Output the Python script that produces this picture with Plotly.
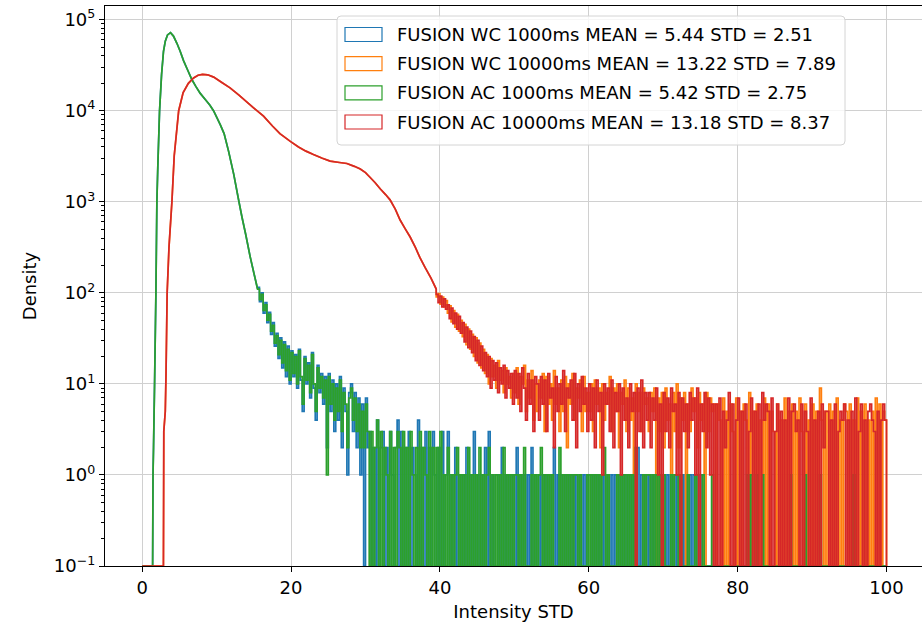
import plotly.graph_objects as go

# ---------------- data ----------------
BIN_W = 0.25          # width of the noisy-tail histogram bins
FLOOR = 0.1           # empty bins are drawn at the bottom of the log axis

LABELS = [
    "FUSION WC 1000ms MEAN = 5.44 STD = 2.51",
    "FUSION WC 10000ms MEAN = 13.22 STD = 7.89",
    "FUSION AC 1000ms MEAN = 5.42 STD = 2.75",
    "FUSION AC 10000ms MEAN = 13.18 STD = 8.37",
]
COLORS = ["#1f77b4", "#ff7f0e", "#2ca02c", "#d62728"]

Y_TICKS = [0.1, 1, 10, 100, 1000, 10000, 100000]
Y_TICKTEXT = ["10<sup>\u22121</sup>", "10<sup>0</sup>", "10<sup>1</sup>", "10<sup>2</sup>",
              "10<sup>3</sup>", "10<sup>4</sup>", "10<sup>5</sup>"]
X_TICKS = [0, 20, 40, 60, 80, 100]

# smooth body of the 1000 ms histograms
blue_smooth_x = [0, 1.4, 1.45, 1.52, 1.66, 1.84, 1.97, 2.1, 2.33, 2.6, 2.86, 3.1, 3.4, 3.8, 4.2, 4.66,
                 5.1, 5.55, 6.1, 6.67, 7.2, 7.8, 8.5, 9.1, 9.58, 10.0, 10.5, 11.0, 11.6, 12.3, 12.95,
                 13.4, 13.9, 14.5, 15.0, 15.5]
blue_smooth_y = [0, 0, 1, 2, 10, 100, 1000, 2500, 10000, 25000, 45000, 58000, 68000, 72000, 66000, 55000,
                 45000, 35500, 28000, 22000, 18500, 15500, 13200, 11500, 10000, 8500, 7000, 5600, 3600, 2000, 1050,
                 680, 440, 250, 165, 110]
green_smooth_x = [0, 1.4, 1.45, 1.52, 1.66, 1.84, 1.97, 2.1, 2.33, 2.6, 2.86, 3.1, 3.4, 3.8, 4.2, 4.66,
                  5.1, 5.55, 6.1, 6.67, 7.2, 7.8, 8.5, 9.1, 9.58, 10.0, 10.5, 11.0, 11.6, 12.3, 12.95,
                  13.4, 13.9, 14.5, 15.0, 15.5]
green_smooth_y = [0, 0, 1, 2, 10, 100, 1000, 2500, 10000, 25000, 45000, 58000, 68000, 72000, 66000, 55000,
                  45000, 35500, 28000, 22000, 18500, 15500, 13200, 11500, 10000, 8500, 7000, 5600, 3600, 2000, 1050,
                  680, 440, 250, 165, 110]

# smooth body of the 10000 ms histograms
orange_smooth_x = [0, 2.85, 2.9, 3.1, 3.2, 3.35, 3.6, 3.99, 4.3, 4.9, 5.5, 6.2, 6.9, 7.5, 8.1, 8.8, 9.6,
                   10.7, 11.8, 13.0, 14.0, 15.0, 16.3, 17.5, 18.5, 19.9, 21.0, 22.0, 23.0, 24.2, 25.25,
                   26.5, 27.5, 28.5, 29.3, 30.0, 30.6, 31.3, 32.0, 32.7, 33.3, 34.0, 34.65, 35.3, 36.0,
                   36.7, 37.3, 38.0, 38.8, 39.5]
orange_smooth_y = [0, 0, 3, 5, 13, 100, 320, 1000, 3200, 10000, 15800, 20000, 22900, 24500, 25100, 24800, 23400,
                   20400, 17800, 14800, 12600, 10700, 8700, 6800, 5600, 4600, 4000, 3600, 3300, 3000, 2800,
                   2700, 2630, 2450, 2290, 2090, 1860, 1620, 1380, 1200, 1050, 830, 630, 510, 410,
                   316, 245, 190, 145, 110]
red_smooth_x = [0, 2.85, 2.9, 3.1, 3.2, 3.35, 3.6, 3.99, 4.3, 4.9, 5.5, 6.2, 6.9, 7.5, 8.1, 8.8, 9.6,
                10.7, 11.8, 13.0, 14.0, 15.0, 16.3, 17.5, 18.5, 19.9, 21.0, 22.0, 23.0, 24.2, 25.25,
                26.5, 27.5, 28.5, 29.3, 30.0, 30.6, 31.3, 32.0, 32.7, 33.3, 34.0, 34.65, 35.3, 36.0,
                36.7, 37.3, 38.0, 38.8, 39.5]
red_smooth_y = [0, 0, 3, 5, 13, 100, 320, 1000, 3200, 10000, 15800, 20000, 22900, 24500, 25100, 24800, 23400,
                20400, 17800, 14800, 12600, 10700, 8700, 6800, 5600, 4600, 4000, 3600, 3300, 3000, 2800,
                2700, 2630, 2450, 2290, 2090, 1860, 1620, 1380, 1200, 1050, 830, 630, 510, 410,
                316, 245, 190, 145, 110]

# noisy tails: counts per 0.25-wide bin
short_tail_start = 15.5
long_tail_start = 39.5

blue_tail = [
    115, 80, 100, 60, 78, 47, 61, 35, 47, 26,
    36, 19, 32, 15, 29, 12, 26, 10, 23, 12,
    21, 9, 24, 11, 5, 20, 10, 17, 7, 22, 9, 4, 16, 8, 13, 6,
    12, 2, 13, 5, 11, 3, 10, 4, 12, 2, 9, 5, 1, 8, 10, 3,
    8, 2, 7, 1, 6, 0, 7, 2,
    3, 0, 2, 0, 4, 0, 2, 3, 0, 2,
    0, 3, 1, 0, 2, 4, 0, 3, 0, 2,
    0, 3, 0, 2, 1, 0, 4, 0, 2, 0,
    3, 0, 2, 0, 3, 1, 0, 2, 0, 3,
    0, 1, 3, 0, 1, 0, 2, 0, 1, 0,
    1, 0, 2, 0, 1, 0, 3, 0, 1, 0,
    1, 0, 2, 0, 3, 0, 1, 0,
    0, 1, 0, 2, 0, 1, 0, 1, 0, 1,
    0, 2, 0, 1, 0, 1, 0, 1, 0, 2,
    0, 1, 0, 1, 0, 1, 0, 1, 0, 1,
    0, 2, 0, 1, 0, 1, 0, 1, 0, 1,
    0, 1, 0, 1, 0, 1, 0, 1, 0, 1,
    1, 0, 1, 0, 1, 0, 1, 0, 1, 0,
    1, 0, 1, 0, 1, 0, 1, 0, 1, 0,
    1, 0, 1, 0, 1, 0, 2, 0, 1, 0,
    1, 0, 1, 0, 1, 0, 1, 0, 1, 0,
    1, 0, 1, 0, 1, 0, 1, 0, 1, 0,
    1, 0, 1, 0, 1, 0, 1, 0, 1, 0,
    1, 0, 0, 0, 0, 0, 0, 0,
    0, 0, 0, 0, 0, 0, 0, 0, 0, 0, 0, 0, 0, 0, 0, 0, 0, 0, 0, 0,
    0, 0, 0, 0, 0, 0, 0, 0, 0, 0, 0, 0, 0, 0, 0, 0, 0, 0, 0, 0,
    0, 0, 0, 0, 0, 0, 0, 0, 0, 0, 0, 0, 0, 0, 0, 0, 0, 0, 0, 0,
    0, 0, 0, 0, 0, 0, 0, 0, 0, 0, 0, 0, 0, 0, 0, 0, 0, 0, 0, 0,
    0, 0, 0, 0, 0, 0, 0, 0, 0, 0, 0, 0,
]
green_tail = [
    110, 84, 96, 64, 74, 50, 58, 38, 44, 28,
    34, 21, 30, 17, 27, 14, 24, 11, 22, 13,
    20, 10, 23, 12, 6, 19, 11, 16, 8, 21, 10, 5, 15, 9, 12, 7,
    11, 1, 12, 6, 10, 4, 9, 5, 11, 3, 8, 6, 2, 7, 9, 4,
    7, 3, 6, 2, 5, 2, 6, 3,
    0, 3, 0, 2, 4, 0, 3, 0, 2, 1,
    0, 3, 0, 2, 0, 3, 2, 0, 3, 0,
    2, 0, 3, 1, 0, 2, 0, 3, 0, 2,
    1, 0, 3, 0, 2, 0, 2, 0, 3, 0,
    1, 0, 2, 0, 1, 0, 1, 2, 0, 1,
    0, 1, 0, 2, 0, 1, 0, 1, 0, 2,
    0, 1, 0, 1, 2, 0, 1, 0,
    1, 0, 1, 0, 2, 0, 1, 0, 1, 0,
    1, 1, 0, 1, 0, 2, 0, 0, 0, 1,
    0, 1, 0, 1, 2, 0, 1, 0, 1, 0,
    1, 0, 0, 0, 2, 0, 1, 0, 1, 0,
    1, 0, 1, 1, 0, 1, 0, 0, 0, 1,
    0, 1, 0, 1, 0, 1, 0, 1, 2, 0,
    1, 0, 0, 0, 0, 1, 0, 1, 0, 1,
    0, 1, 0, 1, 0, 2, 0, 0, 0, 1,
    0, 1, 1, 0, 1, 0, 1, 0, 1, 0,
    1, 0, 0, 0, 1, 0, 1, 1, 0, 1,
    0, 0, 0, 1, 0, 0, 0, 1, 0, 0,
    0, 1, 0, 0, 0, 0, 1, 0,
    0, 0, 0, 0, 0, 0, 0, 0, 0, 0, 0, 0, 0, 0, 0, 0, 0, 1, 0, 1,
    0, 0, 1, 0, 0, 1, 0, 0, 0, 0, 0, 0, 0, 0, 0, 0, 0, 0, 0, 0,
    1, 0, 0, 0, 0, 0, 0, 0, 1, 0, 0, 0, 0, 0, 0, 0, 1, 0, 0, 0,
    0, 0, 0, 0, 0, 0, 0, 0, 0, 0, 0, 0, 0, 0, 1, 0, 0, 0, 0, 0,
    0, 0, 0, 0, 0, 0, 0, 0, 0, 0, 0, 0,
]
orange_tail = [
    90, 98, 75, 90, 70, 82,
    60, 72, 48, 64, 42, 58, 38, 50,
    33, 45, 27, 40, 24, 35, 20, 32, 17, 28, 15, 24,
    13, 21, 10, 19, 12, 16, 9, 18, 11, 14, 8, 15, 10, 12, 7, 13,
    8, 15, 6, 12, 10, 16, 5, 11, 7, 14, 4, 10,
    5, 11, 7, 13, 3, 12, 6, 10, 4, 14, 6, 9, 3, 11, 5, 12, 2, 10, 6, 13, 4, 9, 7, 11, 3, 12, 5, 8,
    5, 10, 3, 11, 6, 9, 2, 10, 4, 8, 6, 12, 3, 9, 5, 10, 2, 8, 6, 11, 3, 9, 4, 7, 1, 10, 5, 8, 3, 9, 6, 7,
    3, 8, 5, 9, 0, 7, 3, 8, 2, 9, 4, 6, 1, 8, 3, 10, 2, 7, 4, 8, 0, 6, 3, 9, 5, 7, 2, 8, 4, 6, 0, 8, 3, 7, 5, 6,
    0, 6, 4, 0, 7, 0, 5, 0, 6, 3,
    0, 7, 0, 5, 0, 6, 4, 0, 8, 0,
    5, 0, 6, 0, 4, 0, 7, 0, 6, 0,
    5, 3, 0, 6, 0, 4, 0, 7, 0, 5,
    0, 6, 0, 5, 0, 7, 3, 0, 6, 0,
    4, 0, 6, 0, 5, 0, 9, 4, 0, 5,
    0, 6, 0, 5, 0, 7, 0, 4, 0, 6,
    5, 0, 6, 0, 4, 0, 7, 0, 5, 0,
    6, 0, 4, 0, 5, 0, 7, 0, 6, 0,
    5, 4,
]
red_tail = [
    96, 78, 92, 70, 86, 66,
    74, 52, 68, 46, 60, 40, 55, 36,
    47, 29, 42, 25, 38, 22, 33, 18, 30, 16, 26, 14,
    22, 12, 20, 9, 18, 11, 17, 8, 15, 10, 16, 7, 14, 9, 13, 6,
    14, 7, 13, 5, 15, 9, 4, 13, 6, 11, 3, 12,
    10, 4, 12, 6, 11, 3, 13, 7, 9, 2, 12, 5, 10, 6, 14, 3, 9, 7, 11, 4, 13, 2, 10, 5, 12, 6, 9, 3,
    10, 4, 9, 2, 11, 5, 8, 1, 10, 6, 9, 3, 11, 2, 8, 5, 10, 1, 9, 4, 7, 2, 10, 5, 8, 0, 9, 3, 11, 2, 8, 4,
    8, 2, 7, 4, 9, 1, 6, 0, 8, 3, 7, 2, 9, 5, 6, 1, 8, 0, 7, 3, 6, 2, 8, 4, 7, 1, 9, 0, 6, 3, 8, 2, 7, 1, 6, 0,
    6, 0, 7, 0, 5, 2, 4, 8, 0, 6,
    0, 4, 7, 0, 5, 0, 6, 0, 3, 7,
    0, 5, 0, 6, 0, 8, 4, 6, 5, 0,
    7, 0, 3, 6, 0, 5, 0, 4, 0, 7,
    0, 5, 6, 3, 4, 0, 6, 0, 5, 3,
    0, 7, 0, 4, 0, 5, 0, 6, 2, 5,
    5, 0, 4, 0, 6, 0, 3, 5, 4, 6,
    0, 4, 0, 5, 0, 7, 0, 3, 6, 0,
    4, 0, 5, 6, 4, 3, 0, 5, 0, 4,
    6, 4,
]


def build_path(sx, sy, start, counts):
    xs, ys = list(sx), list(sy)
    for i, c in enumerate(counts):
        x0 = start + i * BIN_W
        xs += [x0, x0 + BIN_W]
        ys += [c, c]
    xs.append(start + len(counts) * BIN_W)
    ys.append(0)
    ys = [FLOOR if v <= 0 else v for v in ys]
    return xs, ys


series = [
    (blue_smooth_x, blue_smooth_y, short_tail_start, blue_tail),
    (orange_smooth_x, orange_smooth_y, long_tail_start, orange_tail),
    (green_smooth_x, green_smooth_y, short_tail_start, green_tail),
    (red_smooth_x, red_smooth_y, long_tail_start, red_tail),
]

fig = go.Figure()
for (sx, sy, st, tail), name, col in zip(series, LABELS, COLORS):
    xs, ys = build_path(sx, sy, st, tail)
    fig.add_trace(go.Scatter(x=xs, y=ys, mode="lines", name=name,
                             line=dict(color=col, width=1.7, simplify=False),
                             showlegend=False, hoverinfo="skip"))

# ---------------- layout ----------------
L, T, W, H = 105, 6, 817, 560  # plot area in px


def px2paper(px, py):
    return (px - L) / W, (T + H - py) / H


minor_vals = [m * 10 ** e for e in range(-1, 5) for m in range(2, 10)]

fig.update_layout(
    width=922, height=624,
    margin=dict(l=L, r=922 - L - W, t=T, b=624 - T - H, pad=0),
    plot_bgcolor="white", paper_bgcolor="white",
    font=dict(family="DejaVu Sans", size=18, color="black"),
    showlegend=False,
)
fig.update_xaxes(
    range=[-5, 104.77], tickvals=X_TICKS,
    showgrid=True, gridcolor="#d0d0d0", gridwidth=1, zeroline=False,
    showline=True, linecolor="black", linewidth=1.2, mirror=True,
    ticks="outside", ticklen=5, tickwidth=1.2, tickcolor="black",
    tickfont=dict(size=18),
    title=dict(text="Intensity STD", font=dict(size=18), standoff=8),
)
fig.update_yaxes(
    type="log", range=[-1, 5.15], tickmode="array", tickvals=Y_TICKS, ticktext=Y_TICKTEXT,
    showgrid=True, gridcolor="#d0d0d0", gridwidth=1, zeroline=False,
    showline=True, linecolor="black", linewidth=1.2, mirror=False,
    ticks="outside", ticklen=5, tickwidth=1.2, tickcolor="black",
    minor=dict(tickmode="array", tickvals=minor_vals, ticks="outside", ticklen=3,
               tickwidth=0.8, tickcolor="black", showgrid=False),
    tickfont=dict(size=18),
    title=dict(text="Density", font=dict(size=18), standoff=12),
)

# ---------------- legend (matplotlib style) ----------------
bx0, by0 = px2paper(337, 145)
bx1, by1 = px2paper(845, 16)
rx, ry = 4 / W, 4 / H
path = (f"M {bx0+rx},{by0} L {bx1-rx},{by0} Q {bx1},{by0} {bx1},{by0+ry} "
        f"L {bx1},{by1-ry} Q {bx1},{by1} {bx1-rx},{by1} L {bx0+rx},{by1} "
        f"Q {bx0},{by1} {bx0},{by1-ry} L {bx0},{by0+ry} Q {bx0},{by0} {bx0+rx},{by0} Z")
fig.add_shape(type="path", path=path, xref="paper", yref="paper", layer="above",
              fillcolor="rgba(255,255,255,0.8)", line=dict(color="#d4d4d4", width=1))
row_py = [34.5, 63.7, 92.8, 122.0]
for name, col, py in zip(LABELS, COLORS, row_py):
    hx0, hy0 = px2paper(345, py + 7)
    hx1, hy1 = px2paper(382, py - 7)
    fig.add_shape(type="rect", xref="paper", yref="paper", x0=hx0, x1=hx1, y0=hy0, y1=hy1,
                  layer="above", fillcolor="rgba(0,0,0,0)", line=dict(color=col, width=1.2))
    tx, ty = px2paper(395, py)
    fig.add_annotation(x=tx, y=ty, xref="paper", yref="paper", text=name, showarrow=False,
                       xanchor="left", yanchor="middle", font=dict(size=18, color="black"))

fig.write_html("out.html")
